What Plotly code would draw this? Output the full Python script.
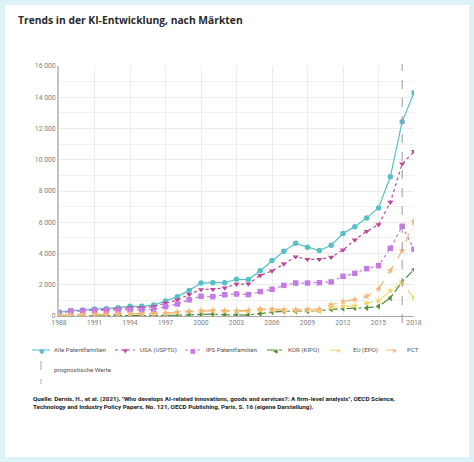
import plotly.graph_objects as go

# Jahre und Werte (Anzahl Patentfamilien)
jahre = list(range(1988, 2019))

alle_patentfamilien = [230, 340, 380, 450, 470, 530, 620, 620, 700, 960, 1240, 1640, 2110, 2130, 2130, 2350,
                       2330, 2900, 3550, 4140, 4650, 4400, 4190, 4530, 5280, 5720, 6280, 6920, 8910, 12440, 14290]
usa_uspto = [200, 300, 340, 400, 430, 470, 530, 530, 600, 830, 1030, 1380, 1690, 1710, 1800, 2040,
             2050, 2600, 2880, 3330, 3790, 3630, 3630, 3760, 4230, 4870, 5420, 5850, 7280, 9740, 10530]
ips_patentfamilien = [230, 320, 340, 360, 370, 380, 400, 380, 420, 600, 770, 1040, 1260, 1240, 1360, 1410,
                      1370, 1560, 1710, 1960, 2110, 2110, 2130, 2180, 2540, 2730, 3030, 3220, 4330, 5740, 4270]
kor_kipo = [0, 0, 0, 10, 10, 10, 20, 20, 30, 40, 50, 70, 100, 120, 80, 60,
            60, 150, 250, 300, 300, 320, 340, 420, 480, 500, 520, 620, 1150, 2200, 2970]
eu_epo = [30, 40, 50, 60, 80, 100, 130, 120, 140, 150, 230, 280, 320, 340, 300, 300,
          300, 380, 380, 340, 340, 380, 340, 550, 620, 660, 810, 980, 1620, 2150, 1150]
pct = [60, 70, 80, 100, 110, 130, 150, 150, 170, 200, 250, 300, 330, 350, 340, 330,
       350, 450, 430, 400, 400, 430, 440, 720, 920, 1050, 1250, 1730, 2900, 4180, 6060]

prognose_jahr = 2017

quelle = ("Quelle: Dernis, H., et al. (2021), \"Who develops AI-related innovations, goods and services?: "
          "A firm-level analysis\", OECD Science,<br>Technology and Industry Policy Papers, No. 121, "
          "OECD Publishing, Paris, S. 16 (eigene Darstellung).")

# name, werte, farbe, linienart, marker, legendenzeichen
reihen = [
    ("Alle Patentfamilien", alle_patentfamilien, "#56bfc7", "solid", "circle", "●"),
    ("USA (USPTO)", usa_uspto, "#c2479c", "dot", "triangle-down", "▼"),
    ("IPS Patentfamilien", ips_patentfamilien, "#c57be3", "dot", "square", "■"),
    ("KOR (KIPO)", kor_kipo, "#4e8f3a", "dashdot", "triangle-left", "◀"),
    ("EU (EPO)", eu_epo, "#f6d66a", "dash", "star", "★"),
    ("PCT", pct, "#f3b57c", "dash", "star", "★"),
]

# Pixelraster der Zeichenfläche
L, R, T, B = 59, 414, 66, 316
W, H = 474, 462


def px(x):
    return (x - L) / (R - L)


def py(y):
    return (B - y) / (B - T)


fig = go.Figure()
for name, werte, farbe, dash, symbol, _ in reihen:
    fig.add_trace(go.Scatter(
        x=jahre, y=werte, name=name, mode="lines+markers", showlegend=False,
        line=dict(color=farbe, width=1.2, dash=dash),
        marker=dict(symbol=symbol, size=5.5, color=farbe)))

# weisse Karte auf hellblauem Hintergrund
fig.add_shape(type="rect", xref="paper", yref="paper", x0=px(5), x1=px(469), y0=py(457), y1=py(5),
              fillcolor="white", line=dict(width=0), layer="below")

# eigene Legende (kompakt wie im Original)
legende_x = [(32, 50, 53), (115, 135, 139), (185, 201, 205), (267, 283, 287), (330, 347, 352), (386, 402, 406)]
ly = 350
for (name, _, farbe, dash, _, zeichen), (s0, s1, t0) in zip(reihen, legende_x):
    fig.add_shape(type="line", xref="paper", yref="paper", x0=px(s0), x1=px(s1), y0=py(ly), y1=py(ly),
                  line=dict(color=farbe, width=1, dash=dash))
    fig.add_annotation(text=zeichen, xref="paper", yref="paper", x=px((s0 + s1) / 2), y=py(ly),
                       xanchor="center", yanchor="middle", showarrow=False,
                       font=dict(family="DejaVu Sans", size=6, color=farbe))
    fig.add_annotation(text=name, xref="paper", yref="paper", x=px(t0), y=py(ly),
                       xanchor="left", yanchor="middle", showarrow=False, borderpad=0,
                       font=dict(family="Roboto", size=6.2, color="#555555"))

# prognostische Werte
fig.add_shape(type="line", xref="x", yref="paper", x0=prognose_jahr, x1=prognose_jahr, y0=py(323), y1=py(64),
              line=dict(color="#9a9a9a", width=1, dash="dash"))
fig.add_shape(type="line", xref="paper", yref="paper", x0=px(41), x1=px(41), y0=py(361), y1=py(384),
              line=dict(color="#aaaaaa", width=1, dash="dash"))
fig.add_annotation(text="prognostische Werte", xref="paper", yref="paper", x=px(53), y=py(370),
                   xanchor="left", yanchor="middle", showarrow=False, borderpad=0,
                   font=dict(family="Roboto", size=6.2, color="#555555"))

fig.add_annotation(text=quelle, xref="paper", yref="paper", x=px(32), y=py(403), align="left",
                   xanchor="left", yanchor="middle", showarrow=False, borderpad=0,
                   font=dict(family="Roboto", size=6.25, color="#222222", weight="bold"))

fig.update_layout(
    width=W, height=H, autosize=False,
    margin=dict(l=L, r=W - R, t=T, b=H - B),
    paper_bgcolor="#def3f8", plot_bgcolor="white",
    separators=", ",
    title=dict(text="Trends in der KI-Entwicklung, nach Märkten", x=18 / W, xanchor="left",
               y=1 - 20 / H, yanchor="middle",
               font=dict(family="Open Sans", size=10.3, color="#2a2a2a", weight="bold")),
    font=dict(family="Roboto", size=6.5, color="#777777"),
    showlegend=False,
)
fig.update_xaxes(range=[1988, 2018], tick0=1988, dtick=3, showgrid=True, gridcolor="#ececec",
                 showline=True, linecolor="#aaaaaa", linewidth=1, ticks="", zeroline=False,
                 tickfont=dict(size=6.8, color="#808080"))
fig.update_yaxes(range=[0, 16000], dtick=2000, tickformat=",d", showgrid=True, gridcolor="#ececec",
                 minor=dict(dtick=1000, showgrid=True, gridcolor="#f2f2f2"),
                 showline=True, linecolor="#c4c4c4", linewidth=2, zeroline=False, ticks="",
                 tickfont=dict(size=6.8, color="#808080"))

fig.write_html("out.html", config={"displayModeBar": False},
               post_script="document.body.style.margin='0';")
